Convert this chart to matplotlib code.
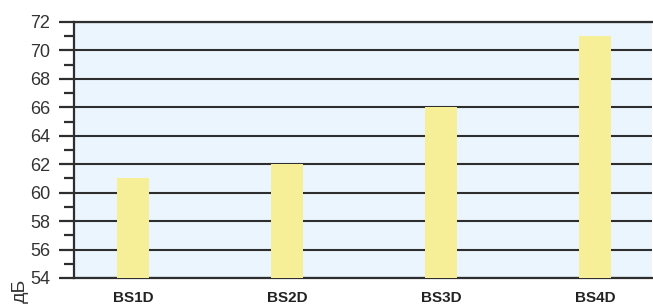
import matplotlib
matplotlib.use("Agg")
import matplotlib.pyplot as plt
from matplotlib.ticker import MultipleLocator

categories = ["BS1D", "BS2D", "BS3D", "BS4D"]
values = [61, 62, 66, 71]
y_ticks = [54, 56, 58, 60, 62, 64, 66, 68, 70, 72]
y_label = "дБ"

plt.rcParams['font.family'] = ['Liberation Sans Narrow', 'Liberation Sans', 'DejaVu Sans']

fig = plt.figure(figsize=(6.53, 3.07), dpi=100)
W, H = 653, 307
ax = fig.add_axes([74 / W, 1 - 278 / H, (652 - 74) / W, (278 - 22) / H])
ax.set_facecolor("#eaf5fd")

x = list(range(len(categories)))
ax.set_xlim(-0.383, 3.37)
ax.set_ylim(54, 72)
ax.set_yticks(y_ticks)
ax.yaxis.set_minor_locator(MultipleLocator(1))
ax.grid(axis='y', which='major', color='#2e2e2e', linewidth=1.5, zorder=1)
ax.set_axisbelow(True)
ax.bar(x, [v - 54 for v in values], bottom=54, width=0.21, color="#f6ef98", zorder=3)

ax.set_xticks(x)
ax.set_xticklabels(categories, fontweight='bold', fontsize=11,
                   family=['Liberation Sans', 'DejaVu Sans'], color='#222222')
ax.tick_params(axis='x', length=0, pad=9)
ax.tick_params(axis='y', which='major', length=11, width=1.6, color='#2e2e2e',
               labelsize=13, pad=6, labelcolor='#333333')
ax.tick_params(axis='y', which='minor', length=7, width=1.6, color='#2e2e2e')

for s in ['left', 'bottom', 'top']:
    ax.spines[s].set_color('#2e2e2e')
    ax.spines[s].set_linewidth(1.6)
ax.spines['right'].set_visible(False)

fig.text(20 / W, 1 - 291 / H, y_label, rotation=90, ha='center', va='center',
         fontsize=14, color='#333333', family=['Liberation Sans', 'DejaVu Sans'])

fig.savefig("out.png", dpi=100)
